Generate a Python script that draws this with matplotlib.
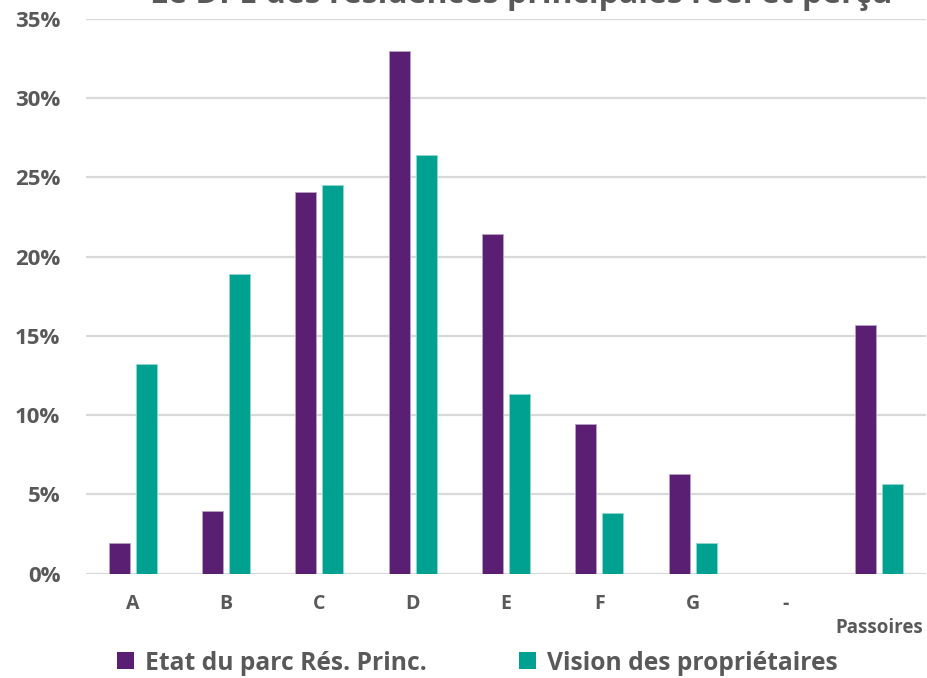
import matplotlib
matplotlib.use("Agg")
import matplotlib.pyplot as plt
from matplotlib.patches import Patch
import numpy as np

# DPE classes and shares of main residences
categories = ["A", "B", "C", "D", "E", "F", "G", "-", "Passoires"]
etat_parc = [1.95, 3.95, 24.05, 32.95, 21.4, 9.45, 6.3, 0.0, 15.7]
vision_proprietaires = [13.2, 18.9, 24.5, 26.4, 11.35, 3.8, 1.9, 0.0, 5.65]
series_names = ["Etat du parc Rés. Princ.", "Vision des propriétaires"]
y_ticks = [0, 5, 10, 15, 20, 25, 30, 35]
title = "Le DPE des résidences principales réel et perçu"

PURPLE = "#5A1E72"
TEAL = "#00A191"
GREY_TXT = "#595959"
GRID = "#D9D9D9"

plt.rcParams["font.family"] = ["Open Sans", "DejaVu Sans"]

fig = plt.figure(figsize=(9.27, 6.78), dpi=100)
ax = fig.add_axes([86 / 927, 1 - 573.5 / 678, 840 / 927, (573.5 - 19) / 678])

x = np.arange(len(categories))
w = 0.225
off = 0.143
ax.bar(x - off, etat_parc, width=w, color=PURPLE, edgecolor="#B9A3C6",
       linewidth=0.6, zorder=3, label=series_names[0])
ax.bar(x + off, vision_proprietaires, width=w, color=TEAL, edgecolor="#8FD8CF",
       linewidth=0.6, zorder=3, label=series_names[1])

ax.set_xlim(-0.5, len(categories) - 0.5)
ax.set_ylim(0, 35)
ax.set_yticks(y_ticks)
ax.set_yticklabels([f"{v}%" for v in y_ticks])
ax.yaxis.grid(True, color=GRID, linewidth=1.6, zorder=0)
ax.set_axisbelow(True)
for s in ax.spines.values():
    s.set_visible(False)

# the aggregated "Passoires" group label sits on a second row
ax.set_xticks(x)
ax.set_xticklabels(categories[:-1] + ["\n" + categories[-1]])
ax.tick_params(axis="both", length=0)
ax.tick_params(axis="y", pad=18.5, labelsize=16, labelcolor=GREY_TXT)
ax.tick_params(axis="x", pad=15, labelsize=14, labelcolor=GREY_TXT)
for lab in ax.get_yticklabels() + ax.get_xticklabels():
    lab.set_fontweight("bold")
last = ax.get_xticklabels()[-1]
last.set_linespacing(1.25)
last.set_fontsize(13.5)

handles = [Patch(facecolor=PURPLE), Patch(facecolor=TEAL)]
leg = fig.legend(handles, series_names, loc="center left",
                 bbox_to_anchor=(117 / 927, 1 - 663 / 678), ncol=2,
                 frameon=False, borderpad=0, borderaxespad=0,
                 handlelength=0.69, handleheight=0.69,
                 handletextpad=0.45, columnspacing=3.75,
                 prop={"size": 17.7, "weight": "bold"})
for t in leg.get_texts():
    t.set_color(GREY_TXT)

fig.text(521 / 927, 1 - 3 / 678, title, ha="center", va="baseline",
         fontsize=23, fontweight="bold", color=GREY_TXT)

fig.savefig("out.png", dpi=100, facecolor="white")
